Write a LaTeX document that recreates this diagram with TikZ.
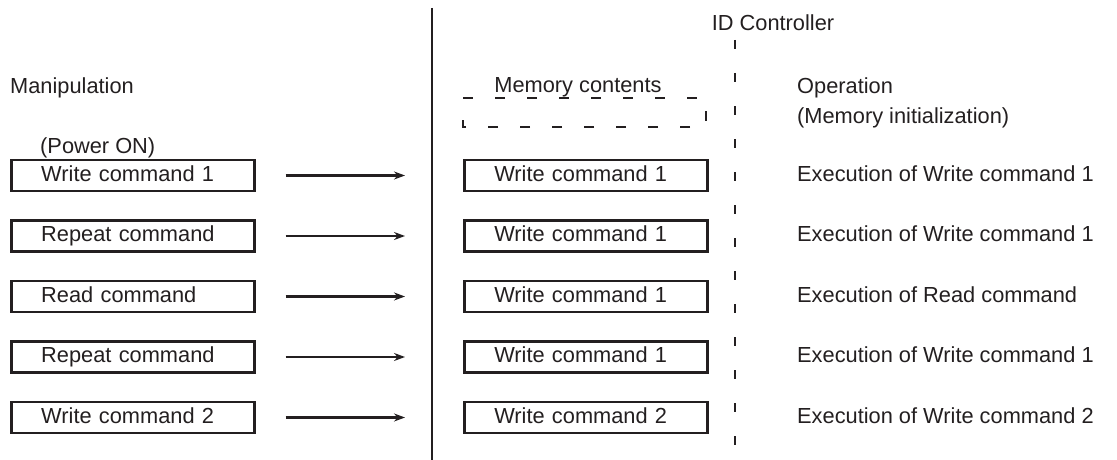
\documentclass[tikz,border=0pt]{standalone}
\usepackage{fontspec}
\setmainfont{Liberation Sans}
\usetikzlibrary{arrows.meta}
\definecolor{ink}{HTML}{231F20}

\begin{document}
\begin{tikzpicture}[x=1pt, y=-1pt, ink, text=ink,
    font=\fontsize{21.8}{25}\selectfont,
    cmdbox/.style={draw, line width=2.5pt, anchor=west, minimum height=31pt,
      inner xsep=30pt, inner ysep=0pt, text width=183pt, align=left,
      text height=15.5pt, text depth=4pt},
    label/.style={anchor=west, inner sep=0pt, text height=15.5pt, text depth=4pt},
    flow/.style={line width=2.3pt, -{Stealth[length=11pt,width=8pt]},
      shorten <=30pt, shorten >=58pt}]
    \useasboundingbox (0,0) rectangle (1117,460);
    % headings
    \node [label] (manip) at (10,88) {Manipulation};
    \node [label] (power) at (40,148) {(Power ON)};
    \node [label, anchor=center] (memhead) at (578,87) {Memory contents};
    \node [label, anchor=center] (idctrl) at (773,25) {ID Controller};
    \node [label] (oper) at (797,88) {Operation};
    \node [label] (init) at (797,118) {(Memory initialization)};
    % separators
    \draw [line width=2.5pt] (432,8) -- (432,460);
    \draw [line width=2.5pt, dash pattern=on 9pt off 24pt] (735,40) -- (735,460);
    \draw [line width=2.5pt, dash pattern=on 10pt off 22pt]
      (463,98) -- (706,98) -- (706,127) -- (463,127) -- cycle;
    % manipulation
    \node [cmdbox] (man_1) at (10,175.5) {Write command 1};
    \node [cmdbox] (man_2) at (10,236) {Repeat command};
    \node [cmdbox] (man_3) at (10,296.5) {Read command};
    \node [cmdbox] (man_4) at (10,357) {Repeat command};
    \node [cmdbox] (man_5) at (10,417.5) {Write command 2};
    % memory
    \node [cmdbox] (mem_1) at (463,175.5) {Write command 1};
    \node [cmdbox] (mem_2) at (463,236) {Write command 1};
    \node [cmdbox] (mem_3) at (463,296.5) {Write command 1};
    \node [cmdbox] (mem_4) at (463,357) {Write command 1};
    \node [cmdbox] (mem_5) at (463,417.5) {Write command 2};
    % operation
    \node [label] (op_1) at (797,175.5) {Execution of Write command 1};
    \node [label] (op_2) at (797,236) {Execution of Write command 1};
    \node [label] (op_3) at (797,296.5) {Execution of Read command};
    \node [label] (op_4) at (797,357) {Execution of Write command 1};
    \node [label] (op_5) at (797,417.5) {Execution of Write command 2};
    \draw [flow] (man_1) -- (mem_1);
    \draw [flow] (man_2) -- (mem_2);
    \draw [flow] (man_3) -- (mem_3);
    \draw [flow] (man_4) -- (mem_4);
    \draw [flow] (man_5) -- (mem_5);
\end{tikzpicture}
\end{document}
